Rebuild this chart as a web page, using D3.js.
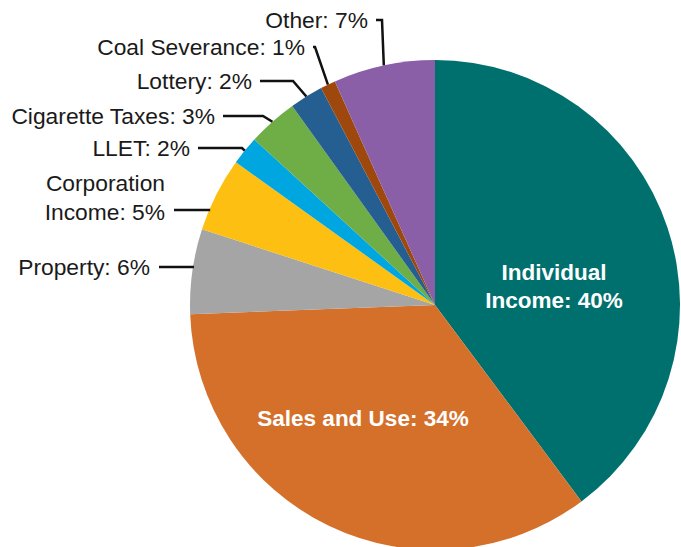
<!DOCTYPE html>
<html>
<head>
<meta charset="utf-8">
<script src="https://cdn.jsdelivr.net/npm/d3@7"></script>
<style>
  body { margin: 0; background: #fff; }
  text { font-family: "Liberation Sans", Arial, sans-serif; }
</style>
</head>
<body>
<script>
var categories = ["Individual Income", "Sales and Use", "Property", "Corporation Income", "LLET",
                  "Cigarette Taxes", "Lottery", "Coal Severance", "Other"];
var shares = [39.8, 34.6, 5.6, 4.9, 1.9, 3.3, 2.2, 1.0, 6.7];
var pctLabels = ["40%", "34%", "6%", "5%", "2%", "3%", "2%", "1%", "7%"];
var colors = ["#00706f", "#d5702b", "#a5a5a5", "#fcbf12", "#00a6df", "#6fad47", "#255e91", "#9e480e", "#8b5ea8"];

var width = 681, height = 547;
var cx = 435, cy = 305, r = 245;

var svg = d3.select("body").append("svg").attr("width", width).attr("height", height);
var g = svg.append("g").attr("transform", "translate(" + cx + "," + cy + ")");

var pie = d3.pie().sort(null).value(function(d) { return d; });
var arcs = pie(shares);
var arc = d3.arc().innerRadius(0).outerRadius(r);

g.selectAll("path.slice")
  .data(arcs)
  .enter().append("path")
    .attr("class", "slice")
    .attr("d", arc)
    .attr("fill", function(d, i) { return colors[i]; });

// outside labels: text right end, vertical middle, elbow of leader (page coords)
var outside = [
  {i: 2, x: 150, y: 267, lines: ["Property: "]},
  {i: 3, x: 165, y: 212, lines: ["Corporation", "Income: "], leadY: 210},
  {i: 4, x: 190, y: 148, elbow: 242},
  {i: 5, x: 215, y: 116, elbow: 263},
  {i: 6, x: 252, y: 81, elbow: 293},
  {i: 7, x: 305, y: 47, elbow: 315},
  {i: 8, x: 368, y: 20, elbow: 382}
];
var shortName = {4: "LLET: ", 5: "Cigarette Taxes: ", 6: "Lottery: ", 7: "Coal Severance: ", 8: "Other: "};

outside.forEach(function(o) {
  var a = arcs[o.i];
  var lines = (o.lines || [shortName[o.i]]).slice();
  lines[lines.length - 1] += pctLabels[o.i];
  var t = svg.append("text")
    .attr("text-anchor", "end")
    .attr("font-size", 22.8)
    .attr("fill", "#1a1a1a");
  lines.forEach(function(s, k) {
    t.append("tspan")
      .attr("x", o.x)
      .attr("y", o.y - (lines.length - 1 - k) * 29)
      .attr("dy", "0.36em")
      .text(s);
  });

  var ly = o.leadY || o.y;
  var pts;
  if (o.elbow == null) {
    // horizontal leader straight to the rim
    var ex = cx - Math.sqrt(r * r - (ly - cy) * (ly - cy));
    pts = [[o.x + 9, ly], [ex + 1, ly]];
  } else {
    var m = (a.startAngle + a.endAngle) / 2;
    var px = cx + r * Math.sin(m), py = cy - r * Math.cos(m);
    pts = [[o.x + 8, ly], [o.elbow, ly], [px, py]];
  }
  svg.append("path")
    .attr("d", d3.line()(pts))
    .attr("fill", "none")
    .attr("stroke", "#111")
    .attr("stroke-width", 2.5);
});

// inside labels
var inside = [
  {i: 0, x: 554, y: 286, lines: ["Individual", "Income: "]},
  {i: 1, x: 363, y: 418, lines: ["Sales and Use: "]}
];
inside.forEach(function(o) {
  var lines = o.lines.slice();
  lines[lines.length - 1] += pctLabels[o.i];
  var t = svg.append("text")
    .attr("text-anchor", "middle")
    .attr("font-size", 22.5)
    .attr("font-weight", "bold")
    .attr("fill", "#fff");
  lines.forEach(function(s, k) {
    t.append("tspan")
      .attr("x", o.x)
      .attr("y", o.y + (k - (lines.length - 1) / 2) * 28)
      .attr("dy", "0.36em")
      .text(s);
  });
});
</script>
</body>
</html>
